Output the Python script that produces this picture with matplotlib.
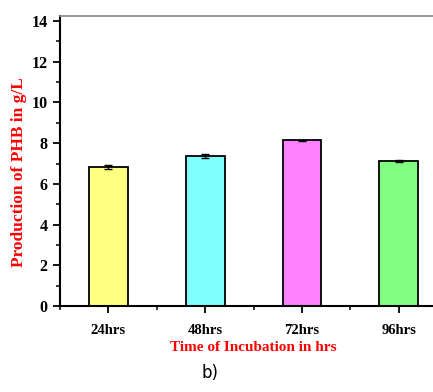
import numpy as np
import matplotlib.pyplot as plt
from matplotlib.ticker import MultipleLocator

# incubation time vs PHB yield
times = ["24hrs", "48hrs", "72hrs", "96hrs"]
phb = [6.85, 7.35, 8.14, 7.13]
phb_err = [0.10, 0.10, 0.03, 0.03]
colors = ["#FFFF80", "#80FFFF", "#FF80FF", "#80FF80"]

plt.rcParams["font.family"] = ["Liberation Serif", "DejaVu Serif"]

fig = plt.figure(figsize=(4.33, 3.92), dpi=100)
ax = fig.add_axes([0.1386, 0.2194, 0.894, 0.7398])

x = np.arange(1, len(times) + 1)
ax.bar(x, phb, width=0.4, color=colors, edgecolor="black", linewidth=1.3, zorder=2)
ax.errorbar(x, phb, yerr=phb_err, fmt="none", ecolor="black", elinewidth=1,
            capsize=3, capthick=1, zorder=3)

ax.set_xlim(0.5, 4.5)
ax.set_ylim(0, 14.25)
ax.yaxis.set_major_locator(MultipleLocator(2))
ax.yaxis.set_minor_locator(MultipleLocator(1))
ax.xaxis.set_minor_locator(MultipleLocator(0.5))
ax.set_xticks(x)
ax.set_xticklabels(times)

for lab in ax.get_xticklabels():
    lab.set_fontweight("bold")
    lab.set_fontsize(10.5)
for lab in ax.get_yticklabels():
    lab.set_fontweight("bold")
    lab.set_fontsize(11.5)

ax.tick_params(axis="both", which="major", direction="out", length=5, width=1.3)
ax.tick_params(axis="both", which="minor", direction="out", length=3, width=1.1)
ax.tick_params(axis="x", which="minor", labelbottom=False)
ax.tick_params(axis="x", pad=8)
ax.tick_params(axis="y", pad=4)

ax.spines["left"].set_linewidth(1.5)
ax.spines["bottom"].set_linewidth(1.5)
ax.spines["top"].set_color("#888888")
ax.spines["top"].set_linewidth(1.2)
ax.spines["right"].set_visible(False)

ax.set_ylabel("Production of PHB in g/L", color="red", fontsize=12.5,
              fontweight="bold")
ax.yaxis.set_label_coords(-0.085, 0.46)
ax.set_xlabel("Time of Incubation in hrs", color="red", fontsize=11,
              fontweight="bold", labelpad=3)

fig.text(0.485, 0.035, "b)", fontsize=12, family="DejaVu Sans", ha="center")

fig.savefig("out.png", dpi=100)
